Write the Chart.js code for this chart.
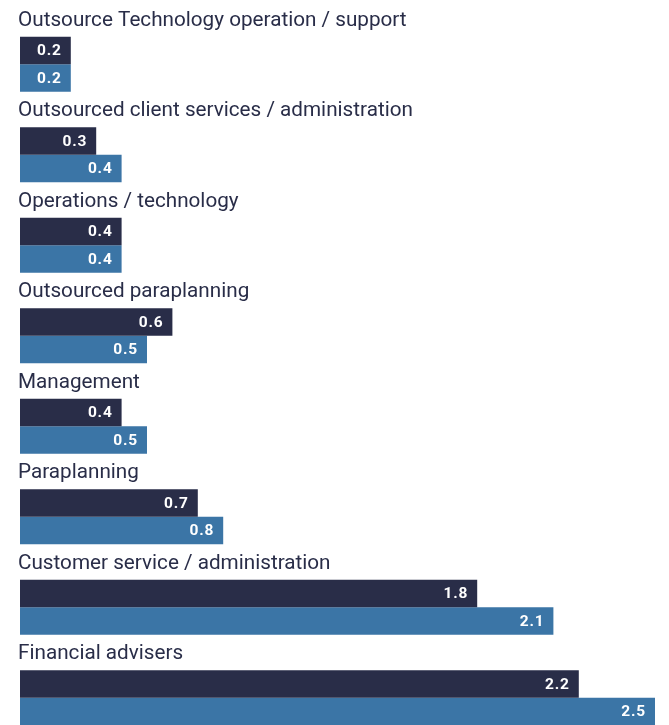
<!DOCTYPE html>
<html>
<head>
<meta charset="utf-8">
<script src="https://cdn.jsdelivr.net/npm/chart.js@4.4.0/dist/chart.umd.min.js"></script>
<style>
    html, body { margin: 0; padding: 0; background: #ffffff; overflow: hidden; }
    .chart-wrap { position: relative; width: 669px; height: 743px; }
</style>
</head>
<body>
<div class="chart-wrap"><canvas id="staffChart"></canvas></div>
<script>
// Staff roles and the two sets of figures per role
const roles = [
    'Outsource Technology operation / support',
    'Outsourced client services / administration',
    'Operations / technology',
    'Outsourced paraplanning',
    'Management',
    'Paraplanning',
    'Customer service / administration',
    'Financial advisers'
];
const firstValues = [0.2, 0.3, 0.4, 0.6, 0.4, 0.7, 1.8, 2.2];
const secondValues = [0.2, 0.4, 0.4, 0.5, 0.5, 0.8, 2.1, 2.5];

const DARK = '#292d48';
const BLUE = '#3b75a6';
const FONT = 'Roboto, "Noto Sans", sans-serif';

// Role names above each group and values inside the bar ends
const labelPlugin = {
    id: 'roleLabels',
    afterDatasetsDraw(chart) {
        const ctx = chart.ctx;
        ctx.save();
        // values
        ctx.font = 'bold 15.5px ' + FONT;
        ctx.letterSpacing = '0.8px';
        ctx.fillStyle = '#ffffff';
        ctx.textAlign = 'right';
        ctx.textBaseline = 'middle';
        chart.data.datasets.forEach((ds, di) => {
            chart.getDatasetMeta(di).data.forEach((bar, i) => {
                ctx.fillText(ds.data[i].toFixed(1), bar.x - 9, bar.y + 1);
            });
        });
        // role names
        ctx.font = '20.7px ' + FONT;
        ctx.letterSpacing = '0px';
        ctx.fillStyle = DARK;
        ctx.textAlign = 'left';
        const firstMeta = chart.getDatasetMeta(0);
        roles.forEach((role, i) => {
            const bar = firstMeta.data[i];
            const top = bar.y - bar.height / 2;
            ctx.fillText(role, 18, top - 16);
        });
        ctx.restore();
    }
};

new Chart(document.getElementById('staffChart'), {
    type: 'bar',
    data: {
        labels: roles,
        datasets: [
            {
                label: 'First',
                data: firstValues,
                backgroundColor: DARK,
                borderWidth: 0
            },
            {
                label: 'Second',
                data: secondValues,
                backgroundColor: BLUE,
                borderWidth: 0
            }
        ]
    },
    options: {
        indexAxis: 'y',
        responsive: true,
        maintainAspectRatio: false,
        animation: false,
        layout: {
            padding: { left: 20, right: 14, top: 19, bottom: 0 }
        },
        datasets: {
            bar: {
                categoryPercentage: 0.61,
                barPercentage: 1.0
            }
        },
        plugins: {
            legend: { display: false },
            tooltip: { enabled: false }
        },
        scales: {
            x: {
                display: false,
                min: 0,
                max: 2.5
            },
            y: {
                display: false,
                offset: true
            }
        }
    },
    plugins: [labelPlugin]
});
</script>
</body>
</html>
